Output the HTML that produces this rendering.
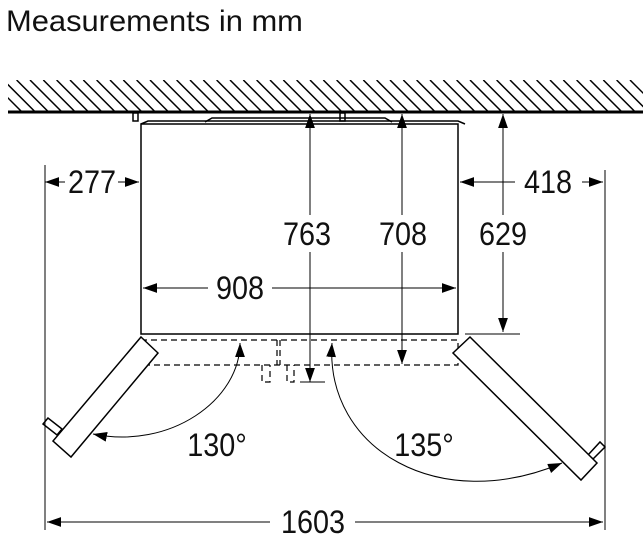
<!DOCTYPE html>
<html><head><style>
body{margin:0;background:#fff;}
svg{display:block;}
text{font-family:"Liberation Sans",Arial,sans-serif;fill:#111;}
</style></head><body>
<svg width="643" height="558" viewBox="0 0 643 558" xmlns="http://www.w3.org/2000/svg">
<defs>
<marker id="b" viewBox="0 0 10 10" refX="10" refY="5" markerWidth="14" markerHeight="14" orient="auto-start-reverse" markerUnits="userSpaceOnUse"><path d="M0,1.5 L10,5 L0,8.5 z" fill="#000"/></marker>
<clipPath id="hc"><rect x="8" y="80" width="635" height="32"/></clipPath>
</defs>
<text x="6" y="31" font-size="30" transform="translate(6 0) scale(1.03 1) translate(-6 0)">Measurements in mm</text>
<g stroke="#000" stroke-width="1.5" clip-path="url(#hc)">
<path d="M-10,80 l32,32 M3.3,80 l32,32 M16.6,80 l32,32 M30,80 l32,32 M43.3,80 l32,32 M56.6,80 l32,32 M70,80 l32,32 M83.3,80 l32,32 M96.6,80 l32,32 M110,80 l32,32 M123.3,80 l32,32 M136.6,80 l32,32 M150,80 l32,32 M163.3,80 l32,32 M176.6,80 l32,32 M190,80 l32,32 M203.3,80 l32,32 M216.6,80 l32,32 M230,80 l32,32 M243.3,80 l32,32 M256.6,80 l32,32 M270,80 l32,32 M283.3,80 l32,32 M296.6,80 l32,32 M310,80 l32,32 M323.3,80 l32,32 M336.6,80 l32,32 M350,80 l32,32 M363.3,80 l32,32 M376.6,80 l32,32 M390,80 l32,32 M403.3,80 l32,32 M416.6,80 l32,32 M430,80 l32,32 M443.3,80 l32,32 M456.6,80 l32,32 M470,80 l32,32 M483.3,80 l32,32 M496.6,80 l32,32 M510,80 l32,32 M523.3,80 l32,32 M536.6,80 l32,32 M550,80 l32,32 M563.3,80 l32,32 M576.6,80 l32,32 M590,80 l32,32 M603.3,80 l32,32 M616.6,80 l32,32 M630,80 l32,32"/>
</g>
<line x1="8" y1="112" x2="643" y2="112" stroke="#000" stroke-width="3"/>
<g fill="none" stroke="#000" stroke-width="1.5">
<rect x="141" y="124" width="317" height="210"/>
<path d="M141,124 L148,121 L458,121 L465,124"/>
<path d="M205,122 L212,118 L385,118 L392,122"/>
<rect x="133" y="113" width="5" height="8"/>
<rect x="340" y="113" width="5" height="8"/>
</g>
<g fill="none" stroke="#000" stroke-width="1.2" stroke-dasharray="6,4">
<rect x="141" y="340" width="317" height="25"/>
<line x1="277" y1="340" x2="277" y2="365"/><line x1="280" y1="340" x2="280" y2="365"/>
<path d="M262,365 V382 H270 V365 M287,365 V382 H294 V365"/>
</g>
<g fill="#fff" stroke="#000" stroke-width="1.5">
<polygon points="48,418 43,424 57,435 62,429"/>
<polygon points="141,337 158,353 71,457 53,441"/>
<polygon points="588,455 600,442 605,447 593,459"/>
<polygon points="470,337 453,353 581,480 597,463"/>
</g>
<g stroke="#000" stroke-width="1" fill="none">
<line x1="45" y1="165" x2="45" y2="530"/>
<line x1="605" y1="170" x2="605" y2="530"/>
<line x1="45" y1="182" x2="65" y2="182" marker-start="url(#b)"/>
<line x1="118" y1="182" x2="139" y2="182" marker-end="url(#b)"/>
<line x1="460" y1="182" x2="515" y2="182" marker-start="url(#b)"/>
<line x1="582" y1="182" x2="603" y2="182" marker-end="url(#b)"/>
<line x1="143" y1="288" x2="208" y2="288" marker-start="url(#b)"/>
<line x1="272" y1="288" x2="456" y2="288" marker-end="url(#b)"/>
<line x1="47" y1="522" x2="270" y2="522" marker-start="url(#b)"/>
<line x1="355" y1="522" x2="603" y2="522" marker-end="url(#b)"/>
<line x1="310" y1="114" x2="310" y2="215" marker-start="url(#b)"/>
<line x1="310" y1="252" x2="310" y2="382" marker-end="url(#b)"/>
<line x1="300" y1="382" x2="325" y2="382"/>
<line x1="402" y1="114" x2="402" y2="215" marker-start="url(#b)"/>
<line x1="402" y1="252" x2="402" y2="364" marker-end="url(#b)"/>
<line x1="503" y1="114" x2="503" y2="215" marker-start="url(#b)"/>
<line x1="503" y1="252" x2="503" y2="332" marker-end="url(#b)"/>
<line x1="465" y1="334" x2="520" y2="334"/>
<path d="M240,343 C240,400 170,450 93,434" marker-start="url(#b)" marker-end="url(#b)"/>
<path d="M332,343 C325,450 440,515 562,463" marker-start="url(#b)" marker-end="url(#b)"/>
</g>
<g font-size="32" text-anchor="middle">
<text x="92" y="193" transform="translate(92 0) scale(0.9 1) translate(-92 0)">277</text>
<text x="548" y="193" transform="translate(548 0) scale(0.9 1) translate(-548 0)">418</text>
<text x="240" y="299" transform="translate(240 0) scale(0.9 1) translate(-240 0)">908</text>
<text x="307" y="245" transform="translate(307 0) scale(0.9 1) translate(-307 0)">763</text>
<text x="403" y="245" transform="translate(403 0) scale(0.9 1) translate(-403 0)">708</text>
<text x="503" y="245" transform="translate(503 0) scale(0.9 1) translate(-503 0)">629</text>
<text x="217" y="456" transform="translate(217 0) scale(0.9 1) translate(-217 0)">130°</text>
<text x="424" y="456" transform="translate(424 0) scale(0.9 1) translate(-424 0)">135°</text>
<text x="313" y="533" transform="translate(313 0) scale(0.9 1) translate(-313 0)">1603</text>
</g>
</svg>
</body></html>
